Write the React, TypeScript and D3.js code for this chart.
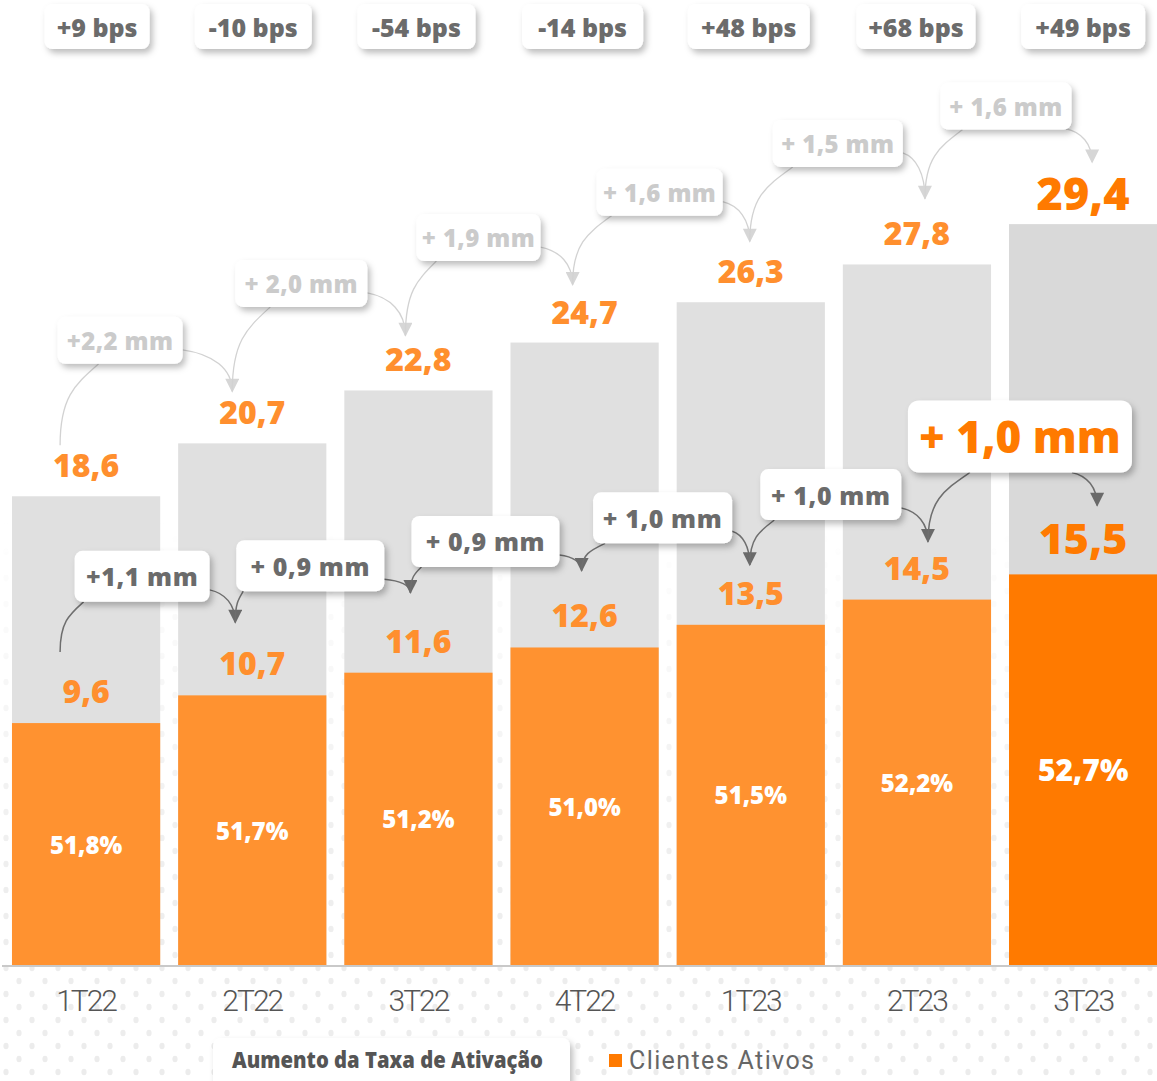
import React from 'react';
import * as d3 from 'd3';

// ---------- data ----------
const categories = ['1T22', '2T22', '3T22', '4T22', '1T23', '2T23', '3T23'];
const totalClients = [18.6, 20.7, 22.8, 24.7, 26.3, 27.8, 29.4];
const activeClients = [9.6, 10.7, 11.6, 12.6, 13.5, 14.5, 15.5];
const activationRate = [51.8, 51.7, 51.2, 51.0, 51.5, 52.2, 52.7];
const rateChangeBps = [9, -10, -54, -14, 48, 68, 49];
const totalIncrease = ['+2,2 mm', '+ 2,0 mm', '+ 1,9 mm', '+ 1,6 mm', '+ 1,5 mm', '+ 1,6 mm'];
const activeIncrease = ['+1,1 mm', '+ 0,9 mm', '+ 0,9 mm', '+ 1,0 mm', '+ 1,0 mm', '+ 1,0 mm'];
const legendRateLabel = 'Aumento da Taxa de Ativação';
const legendActiveLabel = 'Clientes Ativos';

// ---------- layout (annotation offsets) ----------
const W = 1157;
const H = 1081;
const BASE = 965;
const PX_PER_UNIT = 25.2;
const FONT = "'Open Sans', 'Noto Sans', sans-serif";
const BOLD = 800;

const totalBoxDx = [34, 49, 60, 75, 87, 89];
const totalBoxDy = [103, 107, 105, 110, 121, 118];
const totalBoxW = [125, 132, 124, 126, 130, 131];
const totalBoxArcX = [41, 35, 20, 15, 20, 22];
const totalTipDx = [-26, -20, -13, -12, -1, 8, 9];
const totalTipDy = [51, 52, 55, 58, 61, 66, 62];

const activeBoxDx = [56, 58, 67, 78, 80, 103];
const activeBoxDy = [119, 107, 106, 107, 105, 138];
const activeBoxW = [135, 148, 148, 139, 141, 224];
const activeBoxArcX = [9, 7, 10, 12, 14, 62];
const activeTipDx = [-26, -17, -8, -3, -1, 11, 14];
const activeTipDy = [71, 73, 80, 77, 60, 58, 69];

const bpsBoxW = [105, 117, 118, 121, 122, 119, 124];
const bpsDx = [11, 1, -2, -2, -2, -1, 0];

type P = [number, number];

function outPath(a: P, b: P) {
  const dy = a[1] - b[1];
  const dx = b[0] - a[0];
  return `M${a[0]},${a[1]} C${a[0]},${a[1] - dy * 0.6} ${b[0] - dx * 0.6},${b[1] + dy * 0.25} ${b[0]},${b[1]}`;
}
function inPath(c: P, t: P) {
  const dy = t[1] - c[1];
  const dx = t[0] - c[0];
  return `M${c[0]},${c[1]} C${c[0] + dx * 0.6},${c[1] + dy * 0.1} ${t[0]},${t[1] - dy * 0.55} ${t[0]},${t[1]}`;
}

export default function App() {
  const x = d3
    .scaleBand<string>()
    .domain(categories)
    .range([3, 1166.2])
    .paddingInner(0.108)
    .paddingOuter(0.054);
  const y = d3.scaleLinear().domain([0, BASE / PX_PER_UNIT]).range([BASE, 0]);
  const bw = x.bandwidth();
  const cx = (i: number) => (x(categories[i]) as number) + bw / 2;
  const fmt = (v: number) => d3.format('.1f')(v).replace('.', ',');
  const last = categories.length - 1;

  const orange = '#ff9230';
  const orangeStrong = '#ff7a00';
  const labelOrange = '#ff8f2e';

  const upperTip = (i: number): P => [cx(i) + totalTipDx[i], y(totalClients[i]) - totalTipDy[i]];
  const lowerTip = (i: number): P => [cx(i) + activeTipDx[i], y(activeClients[i]) - activeTipDy[i]];

  const upperBoxes = totalIncrease.map((t, i) => {
    const w = totalBoxW[i];
    const h = 47;
    const mx = cx(i) + totalBoxDx[i];
    const my = y(totalClients[i + 1]) - totalBoxDy[i];
    return { t, x0: mx - w / 2, y0: my - h / 2, w, h, mx, my };
  });
  const lowerBoxes = activeIncrease.map((t, i) => {
    const big = i === activeIncrease.length - 1;
    const w = activeBoxW[i];
    const h = big ? 72 : 51;
    const mx = cx(i) + activeBoxDx[i];
    const my = y(activeClients[i + 1]) - activeBoxDy[i];
    return { t, x0: mx - w / 2, y0: my - h / 2, w, h, mx, my, big };
  });

  return (
    <svg
      width={W}
      height={H}
      viewBox={`0 0 ${W} ${H}`}
      style={{ position: 'absolute', left: 0, top: 0, display: 'block', background: '#fff' }}
    >
      <defs>
        <filter id="shadow" x="-20%" y="-40%" width="150%" height="200%">
          <feDropShadow dx="3" dy="4" stdDeviation="3" floodColor="#000" floodOpacity="0.26" />
        </filter>
        <pattern id="dots" width="26" height="26" patternUnits="userSpaceOnUse">
          <ellipse cx="6" cy="6" rx="2.6" ry="3.3" fill="#ececec" />
          <ellipse cx="19" cy="19" rx="2.6" ry="3.3" fill="#ececec" />
        </pattern>
        <linearGradient id="fade" x1="0" y1="520" x2="0" y2="1081" gradientUnits="userSpaceOnUse">
          <stop offset="0" stopColor="#fff" stopOpacity="0" />
          <stop offset="0.6" stopColor="#fff" stopOpacity="0.85" />
          <stop offset="1" stopColor="#fff" stopOpacity="1" />
        </linearGradient>
        <mask id="dotMask">
          <rect x="0" y="0" width={W} height={H} fill="url(#fade)" />
        </mask>
        <marker id="arrLight" viewBox="0 0 10 10" refX="9" refY="5" markerWidth="15" markerHeight="14" markerUnits="userSpaceOnUse" orient="auto">
          <path d="M0,0 L10,5 L0,10 z" fill="#d6d6d6" />
        </marker>
        <marker id="arrDark" viewBox="0 0 10 10" refX="9" refY="5" markerWidth="15" markerHeight="14" markerUnits="userSpaceOnUse" orient="auto">
          <path d="M0,0 L10,5 L0,10 z" fill="#6a6a6a" />
        </marker>
      </defs>

      {/* dotted background */}
      <rect x="0" y="0" width={W} height={H} fill="url(#dots)" mask="url(#dotMask)" />

      {/* bars */}
      {categories.map((c, i) => (
        <g key={c}>
          <rect
            x={x(c)}
            y={y(totalClients[i])}
            width={bw}
            height={BASE - y(totalClients[i])}
            fill={i === last ? '#d9d9d9' : '#e0e0e0'}
          />
          <rect
            x={x(c)}
            y={y(activeClients[i])}
            width={bw}
            height={BASE - y(activeClients[i])}
            fill={i === last ? orangeStrong : orange}
          />
        </g>
      ))}

      {/* axis */}
      <line x1={2} x2={W} y1={BASE + 1} y2={BASE + 1} stroke="#c9c9c9" strokeWidth={2} />
      {categories.map((c, i) => (
        <text
          key={c}
          x={cx(i)}
          y={1011}
          textAnchor="middle"
          fontFamily="Roboto, sans-serif"
          fontWeight={300}
          fontSize={30}
          letterSpacing={-2}
          fill="#555"
        >
          {c}
        </text>
      ))}

      {/* value labels */}
      {categories.map((c, i) => (
        <g key={c}>
          <text
            x={cx(i)}
            y={y(totalClients[i]) - (i === last ? 14 : 19)}
            textAnchor="middle"
            fontFamily={FONT}
            fontWeight={BOLD}
            fontSize={i === last ? 45 : 32}
            fill={i === last ? orangeStrong : labelOrange}
          >
            {fmt(totalClients[i])}
          </text>
          <text
            x={cx(i)}
            y={y(activeClients[i]) - 20}
            textAnchor="middle"
            fontFamily={FONT}
            fontWeight={BOLD}
            fontSize={i === last ? 43 : 32}
            fill={i === last ? orangeStrong : labelOrange}
          >
            {fmt(activeClients[i])}
          </text>
          <text
            x={cx(i)}
            y={(y(activeClients[i]) + BASE) / 2}
            textAnchor="middle"
            dominantBaseline="central"
            fontFamily={FONT}
            fontWeight={BOLD}
            fontSize={i === last ? 30 : 24}
            fill="#fff"
          >
            {fmt(activationRate[i]) + '%'}
          </text>
        </g>
      ))}

      {/* upper chain arcs */}
      {upperBoxes.map((b, i) => {
        const a = upperTip(i);
        const t = upperTip(i + 1);
        const bp: P = [b.x0 + totalBoxArcX[i], b.y0 + b.h];
        const cp: P = i === upperBoxes.length - 1 ? [b.x0 + b.w - 6, b.y0 + b.h - 1] : [b.x0 + b.w, b.y0 + b.h - 14];
        return (
          <g key={'ua' + i} fill="none" stroke="#d2d2d2" strokeWidth={1.3}>
            <path d={outPath(a, bp)} />
            <path d={inPath(cp, t)} markerEnd="url(#arrLight)" />
          </g>
        );
      })}

      {/* lower chain arcs */}
      {lowerBoxes.map((b, i) => {
        const a = lowerTip(i);
        const t = lowerTip(i + 1);
        const bp: P = [b.x0 + activeBoxArcX[i], b.y0 + b.h];
        const cp: P = b.big ? [b.x0 + b.w - 60, b.y0 + b.h] : [b.x0 + b.w, b.y0 + b.h - 12];
        return (
          <g key={'la' + i} fill="none" stroke="#6e6e6e" strokeWidth={1.5}>
            <path d={outPath(a, bp)} />
            <path d={inPath(cp, t)} markerEnd="url(#arrDark)" />
          </g>
        );
      })}

      {/* upper boxes */}
      {upperBoxes.map((b, i) => (
        <g key={'ub' + i}>
          <rect x={b.x0} y={b.y0} width={b.w} height={b.h} rx={8} fill="#fff" filter="url(#shadow)" />
          <text
            x={b.mx}
            y={b.my}
            textAnchor="middle"
            dominantBaseline="central"
            fontFamily={FONT}
            fontWeight={BOLD}
            fontSize={24}
            letterSpacing={0.4}
            fill="#cbcbcb"
          >
            {b.t}
          </text>
        </g>
      ))}

      {/* lower boxes */}
      {lowerBoxes.map((b, i) => (
        <g key={'lb' + i}>
          <rect x={b.x0} y={b.y0} width={b.w} height={b.h} rx={b.big ? 11 : 8} fill="#fff" filter="url(#shadow)" />
          <text
            x={b.mx}
            y={b.my}
            textAnchor="middle"
            dominantBaseline="central"
            fontFamily={FONT}
            fontWeight={BOLD}
            fontSize={b.big ? 44 : 25}
            letterSpacing={b.big ? 0 : 0.6}
            fill={b.big ? orangeStrong : '#6b6b6b'}
          >
            {b.t}
          </text>
        </g>
      ))}

      {/* bps boxes */}
      {rateChangeBps.map((v, i) => {
        const w = bpsBoxW[i];
        const mx = cx(i) + bpsDx[i];
        return (
          <g key={'bps' + i}>
            <rect x={mx - w / 2} y={4} width={w} height={45} rx={8} fill="#fff" filter="url(#shadow)" />
            <text
              x={mx}
              y={27}
              textAnchor="middle"
              dominantBaseline="central"
              fontFamily={FONT}
              fontWeight={BOLD}
              fontSize={25}
              fill="#6b6b6b"
            >
              {(v > 0 ? '+' : '') + v + ' bps'}
            </text>
          </g>
        );
      })}

      {/* legend */}
      <rect x={213} y={1038} width={357} height={60} rx={8} fill="#fff" filter="url(#shadow)" />
      <text
        x={232}
        y={1068}
        fontFamily={FONT}
        fontWeight={BOLD}
        fontSize={22}
        textLength={311}
        lengthAdjust="spacingAndGlyphs"
        fill="#555"
      >
        {legendRateLabel}
      </text>
      <rect x={609} y={1054} width={13} height={13} fill={orangeStrong} />
      <text
        x={629}
        y={1069}
        fontFamily="Roboto, sans-serif"
        fontWeight={400}
        fontSize={25}
        textLength={185}
        lengthAdjust="spacing"
        fill="#666"
      >
        {legendActiveLabel}
      </text>
    </svg>
  );
}
